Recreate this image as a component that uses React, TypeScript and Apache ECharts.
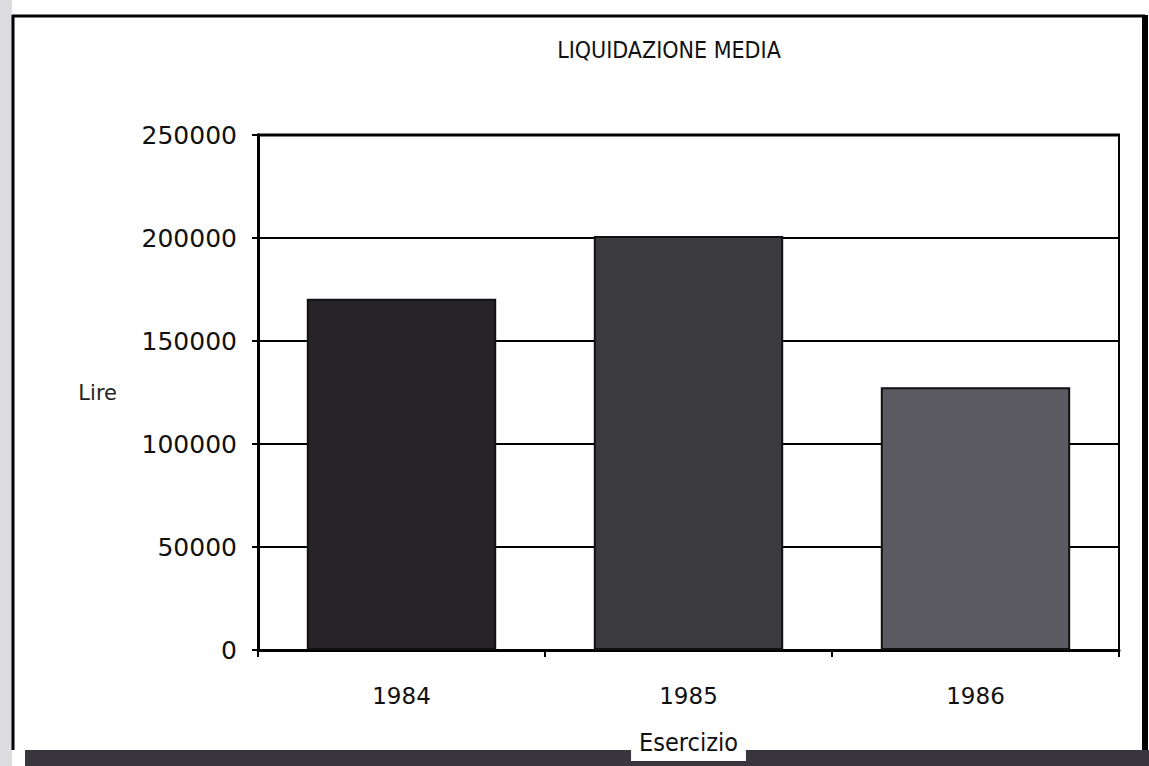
import React, { useEffect, useRef } from "react";
import * as echarts from "echarts";

const titleText = "LIQUIDAZIONE MEDIA";
const categories = ["1984", "1985", "1986"];
const values = [170500, 201000, 127500];
const barColors = ["#262428", "#3b3b40", "#5a5a60"];
const yTicks = { min: 0, max: 250000, interval: 50000 };
const xAxisName = "Esercizio";
const yAxisName = "Lire";

export default function App() {
  const ref = useRef<HTMLDivElement>(null);
  useEffect(() => {
    if (!ref.current) return;
    const chart = echarts.init(ref.current, null, { renderer: "svg" });
    const narrow = "'Liberation Sans Narrow', 'DejaVu Sans Condensed', sans-serif";
    const wide = "'DejaVu Sans', Verdana, sans-serif";
    chart.setOption({
      animation: false,
      backgroundColor: "#ffffff",
      title: {
        text: titleText,
        left: 664,
        top: 33,
        textAlign: "center",
        textStyle: { fontFamily: narrow, fontSize: 23, fontWeight: "normal", color: "#111" },
      },
      grid: {
        left: 258,
        right: 30,
        top: 135,
        bottom: 108,
        show: true,
        borderColor: "#000",
        borderWidth: 2,
        backgroundColor: "transparent",
      },
      xAxis: {
        type: "category",
        data: categories,
        name: xAxisName,
        nameLocation: "middle",
        nameGap: 78,
        nameTextStyle: {
          fontFamily: narrow,
          fontSize: 25,
          color: "#111",
          backgroundColor: "#fff",
          padding: [2, 8, 6, 8],
        },
        axisLine: { lineStyle: { color: "#000", width: 3 } },
        axisTick: { show: true, length: 7, lineStyle: { color: "#000", width: 2 } },
        axisLabel: { fontFamily: wide, fontSize: 23, color: "#111", margin: 34 },
        splitLine: { show: false },
      },
      yAxis: {
        type: "value",
        min: yTicks.min,
        max: yTicks.max,
        interval: yTicks.interval,
        name: yAxisName,
        nameLocation: "middle",
        nameRotate: 0,
        nameGap: 141,
        nameTextStyle: { fontFamily: wide, fontSize: 21, color: "#222" },
        axisLine: { show: true, lineStyle: { color: "#000", width: 3 } },
        axisTick: { show: true, length: 6, lineStyle: { color: "#000", width: 2 } },
        axisLabel: {
          fontFamily: wide,
          fontSize: 25,
          color: "#111",
          margin: 21,
          formatter: (v: number) => String(v),
        },
        splitLine: { show: true, lineStyle: { color: "#000", width: 2 } },
      },
      series: [
        {
          type: "bar",
          barWidth: "66%",
          data: values.map((v, i) => ({
            value: v,
            itemStyle: { color: barColors[i], borderColor: "#111", borderWidth: 2 },
          })),
        },
      ],
      graphic: [
        {
          type: "rect",
          left: 0,
          top: 0,
          shape: { width: 12, height: 766 },
          style: { fill: "#dcdce0" },
          silent: true,
          z: -10,
        },
        {
          type: "rect",
          left: 25,
          top: 750,
          shape: { width: 1124, height: 16 },
          style: { fill: "#38363c" },
          silent: true,
          z: -10,
        },
        {
          type: "line",
          shape: { x1: 13, y1: 15, x2: 13, y2: 750 },
          style: { stroke: "#000", lineWidth: 3 },
          silent: true,
        },
        {
          type: "line",
          shape: { x1: 12, y1: 16, x2: 1145, y2: 16 },
          style: { stroke: "#000", lineWidth: 3 },
          silent: true,
        },
        {
          type: "line",
          shape: { x1: 1145, y1: 15, x2: 1145, y2: 750 },
          style: { stroke: "#000", lineWidth: 6 },
          silent: true,
        },
        {
          type: "line",
          shape: { x1: 257, y1: 135, x2: 1120, y2: 135 },
          style: { stroke: "#000", lineWidth: 3 },
          silent: true,
        },
      ],
    });
    return () => chart.dispose();
  }, []);
  return (
    <div
      ref={ref}
      style={{ position: "absolute", left: 0, top: 0, width: 1149, height: 766 }}
    />
  );
}
